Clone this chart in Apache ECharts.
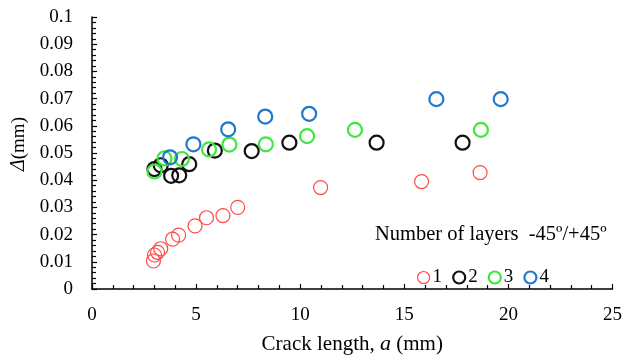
<!DOCTYPE html>
<html>
<head>
<meta charset="utf-8">
<script src="https://cdn.jsdelivr.net/npm/echarts@6/dist/echarts.min.js"></script>
<style>
  html, body { margin: 0; padding: 0; background: #fff; }
  #chart { width: 625px; height: 360px; }
</style>
</head>
<body>
<div id="chart"></div>
<script>
// Crack opening Δ (mm) against crack length a (mm), by number of -45°/+45° layers
const layer1X = [2.95, 3.0, 3.15, 3.3, 3.87, 4.16, 4.95, 5.5, 6.29, 7.0, 10.98, 15.83, 18.64];
const layer1Y = [0.0103, 0.0125, 0.0135, 0.0148, 0.0183, 0.0198, 0.0232, 0.0262, 0.0270, 0.0300, 0.0373, 0.0395, 0.0428];

const layer2X = [3.0, 3.3, 3.8, 4.19, 4.67, 5.9, 7.67, 9.48, 13.67, 17.8];
const layer2Y = [0.0441, 0.0455, 0.0416, 0.0418, 0.0459, 0.0509, 0.0507, 0.0538, 0.0538, 0.0538];

const layer3X = [3.0, 3.48, 4.32, 5.62, 6.6, 8.35, 10.33, 12.63, 18.68];
const layer3Y = [0.0432, 0.0480, 0.0478, 0.0513, 0.0531, 0.0532, 0.0562, 0.0585, 0.0585];

const layer4X = [3.75, 4.87, 6.54, 8.32, 10.43, 16.54, 19.63];
const layer4Y = [0.0484, 0.0532, 0.0587, 0.0634, 0.0644, 0.0698, 0.0698];

const seriesNames = ['1', '2', '3', '4'];
const seriesColors = ['#ff4a4a', '#111111', '#3ee63e', '#1f78cc'];
const seriesLineWidths = [1.2, 2.2, 2.2, 2.2];
const seriesX = [layer1X, layer2X, layer3X, layer4X];
const seriesY = [layer1Y, layer2Y, layer3Y, layer4Y];

const legendTitle = 'Number of layers  -45º/+45º';

const FONT = '"Liberation Serif", "DejaVu Serif", serif';

const chart = echarts.init(document.getElementById('chart'), null, { renderer: 'canvas' });

const series = seriesNames.map((name, i) => ({
  name: name,
  type: 'scatter',
  symbol: 'circle',
  symbolSize: 14,
  itemStyle: {
    color: 'rgba(0,0,0,0)',
    borderColor: seriesColors[i],
    borderWidth: seriesLineWidths[i],
    opacity: 1
  },
  emphasis: { disabled: true },
  data: seriesX[i].map((x, k) => [x, seriesY[i][k]])
}));

chart.setOption({
  animation: false,
  backgroundColor: '#ffffff',
  grid: { left: 92, right: 8, top: 17, bottom: 68, containLabel: false },
  xAxis: {
    type: 'value',
    min: 0, max: 25, interval: 5,
    name: '{n|Crack length, }{i|a}{n| (mm)}',
    nameLocation: 'middle',
    nameGap: 44,
    nameTextStyle: {
      rich: {
        n: { fontFamily: FONT, fontSize: 21, color: '#000' },
        i: { fontFamily: FONT, fontSize: 22, fontStyle: 'italic', color: '#000' }
      }
    },
    axisLine: { show: true, onZero: false, lineStyle: { color: '#000', width: 1.5 } },
    axisTick: { show: true, inside: true, length: 5, lineStyle: { color: '#000', width: 1.2 } },
    minorTick: { show: true, splitNumber: 5, length: 4, lineStyle: { color: '#000', width: 1.2 } },
    splitLine: { show: false },
    axisLabel: { fontFamily: FONT, fontSize: 19, color: '#000', margin: 17 }
  },
  yAxis: {
    type: 'value',
    min: 0, max: 0.1, interval: 0.01,
    axisLine: { show: true, onZero: false, lineStyle: { color: '#000', width: 1.5 } },
    axisTick: { show: true, inside: true, length: 5, lineStyle: { color: '#000', width: 1.2 } },
    minorTick: { show: true, splitNumber: 5, length: 4, lineStyle: { color: '#000', width: 1.2 } },
    splitLine: { show: false },
    axisLabel: {
      fontFamily: FONT, fontSize: 19, color: '#000', margin: 19,
      formatter: v => String(+v.toFixed(3))
    }
  },
  legend: {
    data: seriesNames.map((n, i) => ({
      name: n,
      icon: 'circle',
      itemStyle: { color: 'rgba(0,0,0,0)', borderColor: seriesColors[i], borderWidth: seriesLineWidths[i] }
    })),
    left: 412, top: 263,
    itemWidth: 12, itemHeight: 12, itemGap: 10,
    textStyle: { fontFamily: FONT, fontSize: 19, color: '#000', padding: [0, 0, 0, -2] },
    selectedMode: false
  },
  graphic: [
    {
      type: 'text',
      left: 375, top: 224,
      style: { text: legendTitle, font: '20.5px ' + FONT, fill: '#000' }
    },
    {
      type: 'text',
      x: 19, y: 144,
      rotation: Math.PI / 2,
      style: {
        text: '{d|Δ}{t|(mm)}',
        align: 'center',
        verticalAlign: 'middle',
        rich: {
          d: { fontFamily: FONT, fontSize: 20, fontStyle: 'italic', fill: '#000' },
          t: { fontFamily: FONT, fontSize: 19, fill: '#000' }
        }
      }
    }
  ],
  series: series
});
</script>
</body>
</html>
